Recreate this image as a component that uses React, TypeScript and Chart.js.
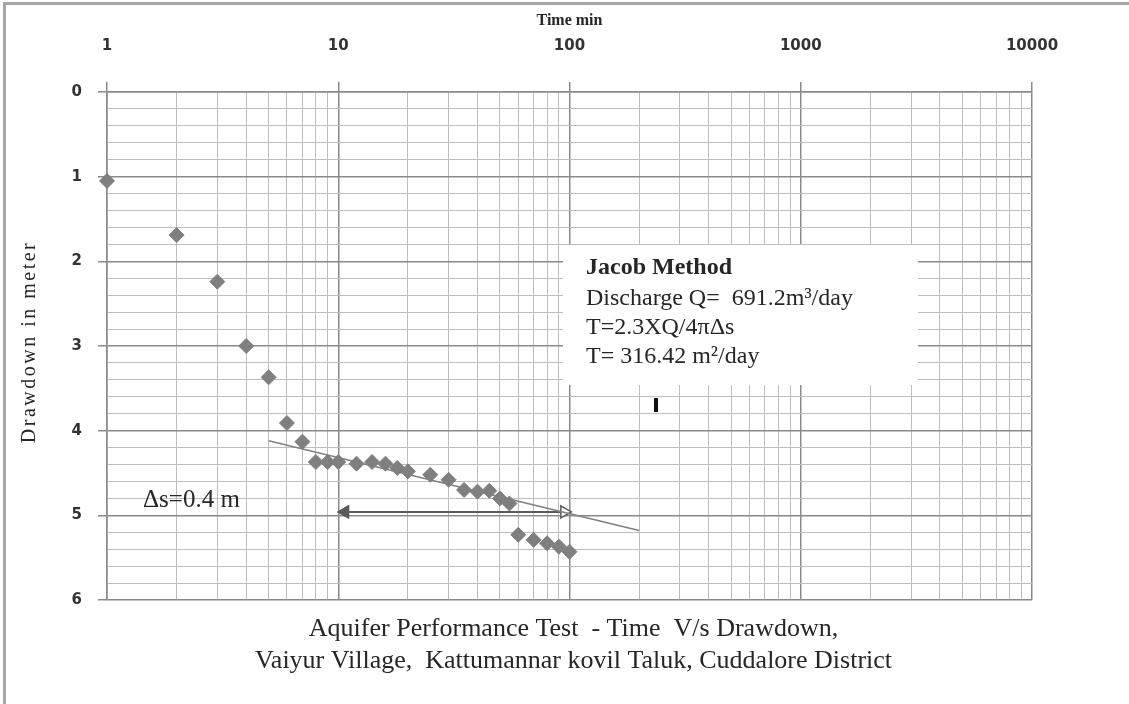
import React, { useEffect, useRef } from 'react';
import { Chart, registerables } from 'chart.js';

Chart.register(...registerables);

// Observed pumping-test data
const timeMin = [1, 2, 3, 4, 5, 6, 7, 8, 9, 10, 12, 14, 16, 18, 20, 25, 30, 35, 40, 45, 50, 55, 60, 70, 80, 90, 100];
const drawdownM = [1.05, 1.69, 2.24, 3.0, 3.37, 3.91, 4.13, 4.37, 4.37, 4.37, 4.39, 4.37, 4.39, 4.44, 4.48, 4.52, 4.58, 4.7, 4.72, 4.71, 4.8, 4.86, 5.23, 5.29, 5.33, 5.37, 5.43];

// Jacob straight-line fit
const trendTime = [5, 200];
const trendDrawdown = [4.12, 5.18];

// Δs arrow across one log cycle
const deltaTime = [10.7, 95];
const deltaDrawdown = [4.96, 4.96];

// Axis ticks
const xTickLabels = ['1', '10', '100', '1000', '10000'];
const yTickLabels = ['0', '1', '2', '3', '4', '5', '6'];

const xTitle = 'Time min';
const yTitle = 'Drawdown in meter';
const titleLines = [
  'Aquifer Performance Test  - Time  V/s Drawdown,',
  'Vaiyur Village,  Kattumannar kovil Taluk, Cuddalore District',
];
const boxLines = ['Jacob Method', 'Discharge Q=  691.2m\u00B3/day', 'T=2.3XQ/4\u03C0\u0394s', 'T= 316.42 m\u00B2/day'];
const deltaLabel = '\u0394s=0.4 m';

const SERIF = '"Liberation Serif", "Times New Roman", serif';
const SANS = '"DejaVu Sans", "Liberation Sans", sans-serif';

const isPow10 = (v: number) => {
  const l = Math.log10(v);
  return Math.abs(l - Math.round(l)) < 1e-9;
};
const isInt = (v: number) => Math.abs(v - Math.round(v)) < 1e-9;

const annotationPlugin = {
  id: 'annotations',
  beforeDatasetsDraw(chart: any) {
    const { ctx } = chart;
    ctx.save();
    ctx.fillStyle = '#ffffff';
    ctx.fillRect(563, 245, 355, 140);
    ctx.fillStyle = '#262626';
    ctx.textBaseline = 'middle';
    ctx.textAlign = 'left';
    const ys = [268, 299, 328, 357];
    boxLines.forEach((t, i) => {
      ctx.font = (i === 0 ? 'bold ' : '') + '24px ' + SERIF;
      ctx.fillText(t, 586, ys[i]);
    });
    ctx.restore();
  },
  afterDraw(chart: any) {
    const { ctx, chartArea } = chart;
    ctx.save();
    ctx.fillStyle = '#262626';
    ctx.textBaseline = 'middle';
    ctx.textAlign = 'left';
    ctx.font = '25px ' + SERIF;
    ctx.fillText(deltaLabel, 143, 500);
    ctx.fillStyle = '#111';
    ctx.fillRect(654, 398, 4, 14);
    ctx.fillStyle = '#262626';
    ctx.textAlign = 'center';
    ctx.font = '26px ' + SERIF;
    const cx = (chartArea.left + chartArea.right) / 2 + 4;
    ctx.fillText(titleLines[0], cx, 629);
    ctx.fillText(titleLines[1], cx, 661);
    // y-axis title
    ctx.save();
    ctx.translate(30, 342);
    ctx.rotate(-Math.PI / 2);
    ctx.font = '20px ' + SERIF;
    (ctx as any).letterSpacing = '2.5px';
    ctx.fillText(yTitle, 0, 0);
    ctx.restore();
    ctx.restore();
  },
};

export default function App() {
  const ref = useRef<HTMLCanvasElement>(null);
  useEffect(() => {
    if (!ref.current) return;
    const points = timeMin.map((t, i) => ({ x: t, y: drawdownM[i] }));
    const trend = trendTime.map((t, i) => ({ x: t, y: trendDrawdown[i] }));
    const delta = deltaTime.map((t, i) => ({ x: t, y: deltaDrawdown[i] }));
    const chart = new Chart(ref.current, {
      type: 'scatter',
      data: {
        datasets: [
          {
            data: points,
            pointStyle: 'rectRot',
            pointRadius: 7.5,
            pointBackgroundColor: '#7f7f7f',
            pointBorderColor: '#7f7f7f',
            pointBorderWidth: 1,
            showLine: false,
            clip: false,
          } as any,
          {
            data: trend,
            showLine: true,
            borderColor: '#808080',
            borderWidth: 1.5,
            pointRadius: 0,
          },
          {
            data: delta,
            showLine: true,
            borderColor: '#5a5a5a',
            borderWidth: 2,
            pointStyle: 'triangle',
            pointRadius: 7,
            pointRotation: [-90, 90],
            pointBackgroundColor: ['#5a5a5a', '#ffffff'],
            pointBorderColor: '#5a5a5a',
            pointBorderWidth: 1.5,
          } as any,
        ],
      },
      options: {
        animation: false,
        responsive: true,
        maintainAspectRatio: false,
        layout: { padding: { left: 0, right: 97, top: 0, bottom: 104 } },
        plugins: {
          legend: { display: false },
          tooltip: { enabled: false },
        },
        scales: {
          x: {
            type: 'logarithmic',
            position: 'top',
            min: 1,
            max: 10000,
            afterBuildTicks: (scale: any) => {
              const vals: number[] = [];
              for (let k = 0; k < 4; k++) for (let m = 1; m <= 9; m++) vals.push(m * Math.pow(10, k));
              vals.push(10000);
              scale.ticks = vals.map((v) => ({ value: v }));
            },
            afterFit: (scale: any) => {
              scale.height = 92;
            },
            ticks: {
              autoSkip: false,
              maxRotation: 0,
              padding: 27,
              color: '#333',
              font: { family: SANS, size: 15, weight: 'bold' },
              callback: (v: any) => (isPow10(Number(v)) ? xTickLabels[Math.round(Math.log10(Number(v)))] : ''),
            },
            grid: {
              color: (c: any) => (c.tick && isPow10(c.tick.value) ? '#8a8a8a' : '#bdbdbd'),
              lineWidth: (c: any) => (c.tick && isPow10(c.tick.value) ? 1.5 : 1),
              tickColor: (c: any) => (c.tick && isPow10(c.tick.value) ? '#8a8a8a' : 'rgba(0,0,0,0)'),
              tickLength: 10,
            },
            border: { display: true, color: '#8a8a8a', width: 1.5 },
            title: {
              display: true,
              text: xTitle,
              color: '#262626',
              font: { family: SERIF, size: 16, weight: 'bold' },
              padding: { top: 11, bottom: 0 },
            },
          },
          y: {
            type: 'linear',
            reverse: true,
            min: 0,
            max: 6,
            afterBuildTicks: (scale: any) => {
              const vals: number[] = [];
              for (let i = 0; i <= 30; i++) vals.push(i / 5);
              scale.ticks = vals.map((v) => ({ value: v }));
            },
            afterFit: (scale: any) => {
              scale.width = 107;
            },
            ticks: {
              autoSkip: false,
              padding: 16,
              color: '#333',
              font: { family: SANS, size: 15, weight: 'bold' },
              callback: (v: any) => (isInt(Number(v)) ? yTickLabels[Math.round(Number(v))] : ''),
            },
            grid: {
              color: (c: any) => (c.tick && isInt(c.tick.value) ? '#8a8a8a' : '#bdbdbd'),
              lineWidth: (c: any) => (c.tick && isInt(c.tick.value) ? 1.5 : 1),
              tickColor: (c: any) => (c.tick && isInt(c.tick.value) ? '#8a8a8a' : 'rgba(0,0,0,0)'),
              tickLength: 9,
            },
            border: { display: true, color: '#8a8a8a', width: 1.5 },
            title: { display: false },
          },
        },
      } as any,
      plugins: [annotationPlugin],
    });
    return () => chart.destroy();
  }, []);

  return (
    <div style={{ position: 'fixed', left: 0, top: 0, width: 1129, height: 704, background: '#fff' }}>
      <div style={{ position: 'absolute', left: 3, top: 2, right: 0, height: 3, background: '#a6a6a6' }} />
      <div style={{ position: 'absolute', left: 3, top: 2, bottom: 0, width: 3, background: '#a6a6a6' }} />
      <canvas ref={ref} style={{ position: 'absolute', left: 0, top: 0, width: 1129, height: 704 }} />
    </div>
  );
}
